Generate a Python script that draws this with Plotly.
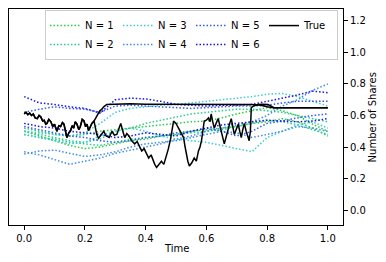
import plotly.graph_objects as go

# ---- data ----
t_grid = [0.0, 0.05, 0.1, 0.15, 0.2, 0.25, 0.3, 0.35, 0.4, 0.45, 0.5,
          0.55, 0.6, 0.65, 0.7, 0.75, 0.8, 0.85, 0.9, 0.95, 1.0]

n1a = [0.52, 0.50, 0.48, 0.47, 0.48, 0.50, 0.51, 0.52, 0.53, 0.54, 0.55, 0.56, 0.565, 0.585, 0.61, 0.63, 0.65, 0.63, 0.60, 0.545, 0.50]
n1b = [0.50, 0.47, 0.44, 0.41, 0.39, 0.40, 0.42, 0.44, 0.45, 0.47, 0.48, 0.50, 0.51, 0.52, 0.53, 0.55, 0.56, 0.58, 0.56, 0.52, 0.47]
n2a = [0.50, 0.48, 0.46, 0.44, 0.43, 0.45, 0.50, 0.52, 0.55, 0.57, 0.59, 0.61, 0.62, 0.63, 0.64, 0.64, 0.63, 0.62, 0.60, 0.58, 0.56]
n2b = [0.48, 0.46, 0.45, 0.43, 0.42, 0.41, 0.43, 0.45, 0.46, 0.47, 0.48, 0.49, 0.50, 0.51, 0.53, 0.55, 0.57, 0.56, 0.54, 0.51, 0.48]
n3a = [0.50, 0.49, 0.48, 0.47, 0.49, 0.55, 0.62, 0.645, 0.655, 0.665, 0.67, 0.68, 0.69, 0.70, 0.71, 0.72, 0.735, 0.74, 0.72, 0.69, 0.66]
n3b = [0.48, 0.46, 0.44, 0.42, 0.43, 0.47, 0.50, 0.52, 0.50, 0.47, 0.45, 0.44, 0.43, 0.41, 0.39, 0.37, 0.46, 0.50, 0.54, 0.56, 0.52]
n4a = [0.355, 0.375, 0.38, 0.36, 0.34, 0.35, 0.37, 0.40, 0.42, 0.43, 0.44, 0.46, 0.48, 0.50, 0.49, 0.46, 0.48, 0.50, 0.53, 0.52, 0.50]
n4b = [0.37, 0.35, 0.32, 0.29, 0.31, 0.33, 0.36, 0.38, 0.40, 0.42, 0.45, 0.47, 0.50, 0.52, 0.54, 0.56, 0.60, 0.66, 0.70, 0.76, 0.80]
n5a = [0.62, 0.64, 0.655, 0.645, 0.64, 0.62, 0.66, 0.665, 0.66, 0.655, 0.65, 0.645, 0.65, 0.655, 0.66, 0.66, 0.665, 0.68, 0.69, 0.69, 0.69]
n5b = [0.53, 0.51, 0.49, 0.47, 0.46, 0.44, 0.43, 0.44, 0.46, 0.47, 0.49, 0.50, 0.52, 0.50, 0.47, 0.50, 0.55, 0.565, 0.585, 0.60, 0.61]
n6a = [0.72, 0.68, 0.67, 0.655, 0.645, 0.615, 0.70, 0.71, 0.705, 0.69, 0.67, 0.665, 0.66, 0.665, 0.665, 0.67, 0.69, 0.71, 0.73, 0.755, 0.745]
n6b = [0.55, 0.53, 0.52, 0.50, 0.49, 0.48, 0.46, 0.47, 0.49, 0.48, 0.47, 0.50, 0.52, 0.54, 0.55, 0.56, 0.57, 0.565, 0.56, 0.565, 0.58]

true_start_t = [0.0, 0.006, 0.012, 0.018, 0.024, 0.03, 0.036, 0.043, 0.049, 0.055, 0.061, 0.066,
                0.071, 0.075, 0.081, 0.088, 0.094, 0.1, 0.104, 0.108, 0.114, 0.12, 0.126,
                0.131, 0.136, 0.141, 0.147, 0.152, 0.158, 0.163, 0.168, 0.174, 0.18, 0.185,
                0.191, 0.197, 0.202, 0.207, 0.212, 0.216, 0.223, 0.23]
true_start_v = [0.61, 0.62, 0.605, 0.615, 0.6, 0.61, 0.585, 0.58, 0.6, 0.59, 0.565, 0.57,
                0.545, 0.55, 0.575, 0.56, 0.53, 0.545, 0.52, 0.5, 0.535, 0.53, 0.555,
                0.545, 0.5, 0.46, 0.49, 0.5, 0.535, 0.52, 0.56, 0.545, 0.51, 0.53,
                0.575, 0.565, 0.53, 0.545, 0.505, 0.52, 0.55, 0.565]

true_a_t = [0.24, 0.249, 0.256, 0.262, 0.272, 0.3, 0.35, 0.4, 0.5, 0.6, 0.7, 0.75, 0.78, 0.8, 0.82, 0.9, 1.0]
true_a_v = [0.595, 0.63, 0.64, 0.655, 0.67, 0.672, 0.674, 0.672, 0.671, 0.672, 0.671, 0.67, 0.665, 0.655, 0.65, 0.65, 0.65]

true_b_t = [0.235, 0.239, 0.245, 0.25, 0.256, 0.262, 0.27, 0.28, 0.289, 0.297, 0.305, 0.312, 0.318,
            0.325, 0.331, 0.338, 0.345, 0.354, 0.364, 0.372, 0.38, 0.387, 0.395, 0.403, 0.41,
            0.418, 0.425, 0.43, 0.436, 0.444, 0.452, 0.46, 0.468, 0.475, 0.482, 0.487, 0.492,
            0.5, 0.508, 0.516, 0.525, 0.53, 0.534, 0.539, 0.544, 0.552, 0.56, 0.567, 0.574,
            0.579, 0.584, 0.589, 0.593, 0.6, 0.607, 0.612, 0.616, 0.621, 0.626, 0.632, 0.639,
            0.644, 0.649, 0.654, 0.659, 0.666, 0.672, 0.677, 0.682, 0.687, 0.692, 0.698, 0.705,
            0.71, 0.715, 0.72, 0.725, 0.731, 0.738, 0.741, 0.745, 0.748, 0.755, 0.77, 0.785,
            0.803, 0.823, 1.0]
true_b_v = [0.52, 0.48, 0.455, 0.47, 0.49, 0.5, 0.47, 0.46, 0.5, 0.475, 0.48, 0.52, 0.55,
            0.5, 0.46, 0.485, 0.47, 0.44, 0.42, 0.435, 0.4, 0.375, 0.39, 0.355, 0.33,
            0.35, 0.31, 0.29, 0.27, 0.29, 0.31, 0.29, 0.34, 0.39, 0.45, 0.52, 0.565,
            0.55, 0.52, 0.5, 0.46, 0.4, 0.355, 0.31, 0.28, 0.3, 0.33, 0.31, 0.375,
            0.4, 0.44, 0.5, 0.565, 0.57, 0.585, 0.56, 0.61, 0.56, 0.52, 0.55, 0.58,
            0.54, 0.5, 0.46, 0.42, 0.47, 0.52, 0.55, 0.58, 0.53, 0.48, 0.51, 0.545,
            0.5, 0.46, 0.51, 0.55, 0.5, 0.46, 0.44, 0.5, 0.65, 0.66, 0.67, 0.672,
            0.67, 0.65, 0.65]

labels = ["N = 1", "N = 2", "N = 3", "N = 4", "N = 5", "N = 6"]
series = [(n1a, n1b), (n2a, n2b), (n3a, n3b), (n4a, n4b), (n5a, n5b), (n6a, n6b)]
colors = ["rgb(40,205,70)", "rgb(40,205,140)", "rgb(60,205,205)",
          "rgb(60,140,230)", "rgb(50,90,235)", "rgb(20,20,230)"]
ranks = [1, 5, 2, 6, 3, 7]

fig = go.Figure()
for lab, (sa, sb), col, rk in zip(labels, series, colors, ranks):
    for j, s in enumerate((sa, sb)):
        fig.add_trace(go.Scatter(
            x=t_grid, y=s, mode="lines", name=lab, legendgroup=lab,
            showlegend=(j == 0), legendrank=rk,
            line=dict(color=col, width=1.5, dash="1.5px,2px")))

fig.add_trace(go.Scatter(x=true_start_t + true_a_t, y=true_start_v + true_a_v,
                         mode="lines", name="True", legendgroup="True", legendrank=4,
                         line=dict(color="black", width=1.5)))
fig.add_trace(go.Scatter(x=true_start_t + true_b_t, y=true_start_v + true_b_v,
                         mode="lines", name="True", legendgroup="True", showlegend=False,
                         line=dict(color="black", width=1.5)))

axis_common = dict(showline=True, linecolor="black", linewidth=1, mirror=True,
                   ticks="outside", ticklen=4, tickcolor="black", showgrid=False,
                   zeroline=False, automargin=False, tickfont=dict(size=10, color="black"))

# page body has an 8px margin, so the figure is sized 8px smaller than the window
fig.update_layout(
    width=378, height=254,
    margin=dict(l=1, r=43, t=1, b=37),
    paper_bgcolor="white", plot_bgcolor="white",
    font=dict(family="DejaVu Sans", size=10, color="black"),
    xaxis=dict(range=[-0.05, 1.05], tickvals=[0, 0.2, 0.4, 0.6, 0.8, 1.0],
               ticktext=["0.0", "0.2", "0.4", "0.6", "0.8", "1.0"], **axis_common),
    yaxis=dict(range=[-0.095, 1.276], side="right",
               tickvals=[0, 0.2, 0.4, 0.6, 0.8, 1.0, 1.2],
               ticktext=["0.0", "0.2", "0.4", "0.6", "0.8", "1.0", "1.2"], **axis_common),
    legend=dict(orientation="h", x=0.985, xanchor="right", y=0.995, yanchor="top",
                bgcolor="rgba(255,255,255,0.8)", bordercolor="#cccccc", borderwidth=1,
                font=dict(size=10), entrywidth=28, tracegroupgap=0, itemwidth=30),
    annotations=[
        dict(text="Time", xref="paper", yref="paper", x=0.5, y=-0.108,
             xanchor="center", yanchor="middle", showarrow=False, font=dict(size=10)),
        dict(text="Number of Shares", xref="paper", yref="paper", x=1.088, y=0.5,
             textangle=-90, xanchor="center", yanchor="middle", showarrow=False,
             font=dict(size=10)),
    ],
)

fig.write_html("out.html")
